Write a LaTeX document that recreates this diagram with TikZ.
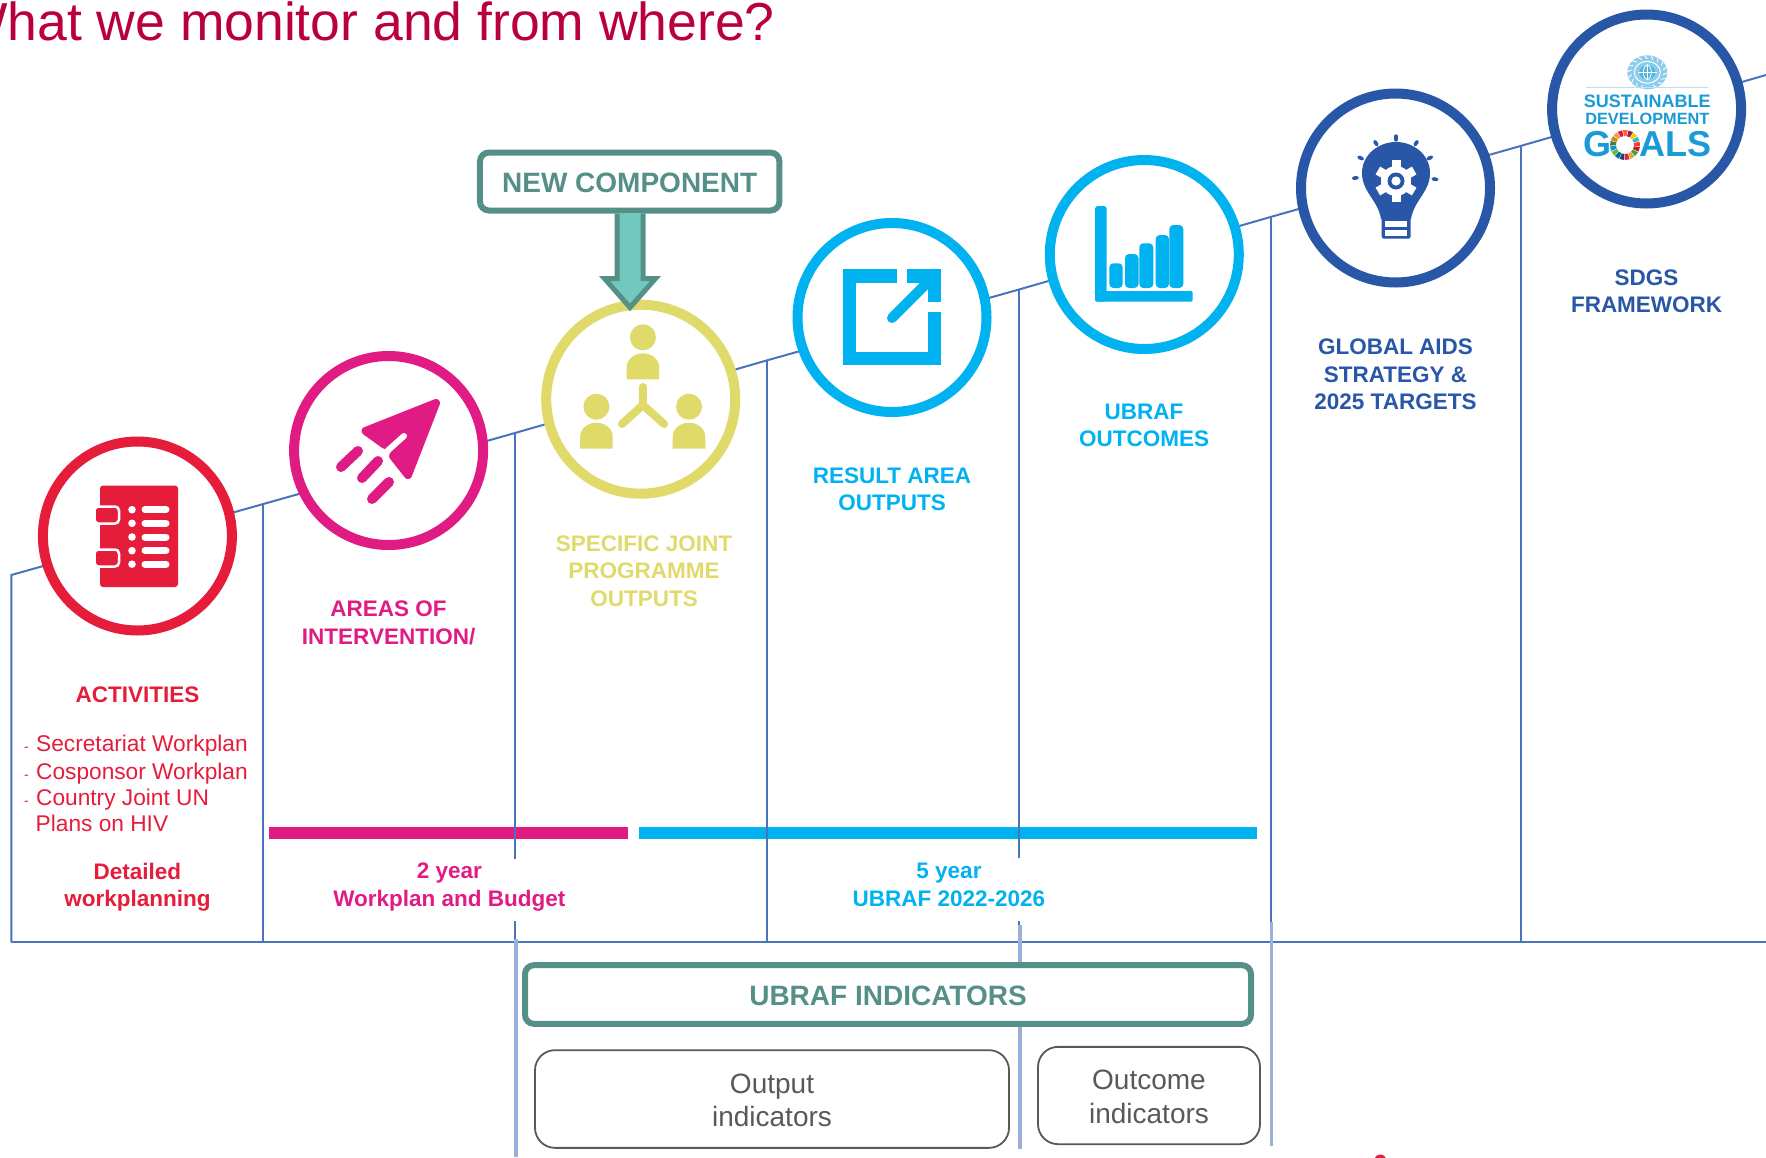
\documentclass[tikz,border=0pt]{standalone}
\usepackage{fontspec}
\setmainfont{Liberation Sans}
\usetikzlibrary{arrows,arrows.meta,positioning,calc}
\definecolor{titlered}{HTML}{B9003C}
\definecolor{stepline}{HTML}{4A72BF}
\definecolor{stepfaint}{HTML}{9BB0DA}
\definecolor{actred}{HTML}{E51C3A}
\definecolor{areapink}{HTML}{E01C84}
\definecolor{jointyellow}{HTML}{E0DA6A}
\definecolor{ubrafblue}{HTML}{00B2F0}
\definecolor{aidsnavy}{HTML}{2857A8}
\definecolor{newteal}{HTML}{559088}
\definecolor{newfill}{HTML}{73C8BE}
\definecolor{indgray}{HTML}{595959}
\definecolor{sdgblue}{HTML}{1A9AD6}
\tikzset{
  ringnode/.style={circle, draw, fill=white, line width=10pt, minimum size=189pt, inner sep=0pt},
  steplabel/.style={align=center, inner sep=0pt, font=\bfseries\fontsize{22.5}{27.5}\selectfont},
  planlabel/.style={align=left, inner sep=0pt, font=\fontsize{22.7}{27}\selectfont, text=actred},
  tealbox/.style={draw=newteal, line width=6pt, rounded corners=9pt, fill=white, text=newteal,
    text height=22pt, text depth=0pt, font=\bfseries\fontsize{28}{32}\selectfont},
  indbox/.style={draw=indgray, line width=1.8pt, rounded corners=20pt, fill=white, text=indgray,
    align=center, font=\fontsize{28}{33.5}\selectfont},
  stepedge/.style={stepline, line width=2pt},
  faintedge/.style={stepfaint, line width=3.5pt}
}
\newcommand{\plandash}{{\fontsize{14}{14}\selectfont -}\hspace{7.3pt}}
\begin{document}
\begin{tikzpicture}[x=1pt, y=-1pt]
  \clip (0,0) rectangle (1766,1157);

  % Title
  \node[anchor=base east, inner sep=0pt, text=titlered, font=\fontsize{53.5}{60}\selectfont] (title) at (775,40.7) {What we monitor and from where?};

  % Stair corners
  \coordinate (t0) at (11.3,575);
  \coordinate (t1) at (263.3,504);
  \coordinate (t2) at (515,433);
  \coordinate (t3) at (766.5,360.5);
  \coordinate (t4) at (1019,289.5);
  \coordinate (t5) at (1270.5,217);
  \coordinate (t6) at (1520.5,146);
  \coordinate (tend) at (1766,75);
  \coordinate (b0) at (11.3,942);
  \coordinate (bend) at (1766,942);

  % Period bars
  \fill[areapink] (269,827) rectangle (628,838.5);
  \fill[ubrafblue] (639,827) rectangle (1257,838.5);

  % Draw edges
  \draw[stepedge] (b0) -- (t0) -- (t1) -- (t2) -- (t3) -- (t4) -- (t5) -- (t6) -- (tend);
  \draw[stepedge] (b0) -- (bend);
  \draw[stepedge] (t1) -- (263.3,942);
  \draw[stepedge] (t2) -- (515,859);
  \draw[stepedge] (515,921) -- (515,942);
  \draw[stepedge] (t3) -- (766.5,942);
  \draw[stepedge] (t4) -- (1019,858);
  \draw[stepedge] (1019,921) -- (1019,942);
  \draw[stepedge] (t5) -- (1270.5,925);
  \draw[stepedge] (t6) -- (1520.5,942);
  \draw[faintedge] (516,939) -- (516,1157);
  \draw[faintedge] (1020,925) -- (1020,1149);
  \draw[faintedge] (1271.5,922) -- (1271.5,1146);

  % Define nodes
  \node[ringnode, draw=actred] (activities) at (137.4,536) {};
  \node[ringnode, draw=areapink] (areas) at (388.6,450.5) {};
  \node[ringnode, draw=jointyellow] (joint) at (640.7,399.2) {};
  \node[ringnode, draw=ubrafblue] (result) at (892,317.5) {};
  \node[ringnode, draw=ubrafblue] (outcomes) at (1144.3,254.5) {};
  \node[ringnode, draw=aidsnavy] (aids) at (1395.5,188) {};
  \node[ringnode, draw=aidsnavy] (sdgs) at (1646.6,109) {};

  % Activities icon
  \fill[actred, rounded corners=3pt] (100,485.5) rectangle (178,587);
  \draw[white, line width=2.5pt, fill=actred, rounded corners=4pt] (94.5,506.5) rectangle (119,523.5);
  \draw[white, line width=2.5pt, fill=actred, rounded corners=4pt] (94.5,549.5) rectangle (119,566.5);
  \foreach \y in {509.7,523.3,537,550.7,564.2} {
    \fill[white] (132,\y) circle (3.8pt);
    \draw[white, line width=7pt, line cap=round] (145,\y) -- (166,\y);
  }

  % Rocket icon
  \fill[areapink, draw=areapink, line width=8pt, line join=round] (436,403) -- (365.5,431) -- (385,445) -- (410,430) -- (393,456) -- (408,475) -- cycle;
  \draw[white, line width=6pt, line cap=round] (404,436) -- (385,453);
  \draw[areapink, line width=10pt, line cap=round] (341,467) -- (358,451);
  \draw[areapink, line width=10pt, line cap=round] (362,478) -- (378,461);
  \draw[areapink, line width=10pt, line cap=round] (372,499) -- (389,482);

  % People icon
  \foreach \hx/\hy in {642.9/337.3, 596.4/406.7, 689/406.7} {
    \fill[jointyellow] (\hx,\hy) circle (13pt);
    \fill[jointyellow] (\hx-16.3,\hy+42) -- (\hx-16.3,\hy+30) arc (180:0:16.3pt and 14pt) -- (\hx+16.3,\hy+42) -- cycle;
  }
  \draw[jointyellow, line width=8pt, line cap=round] (642.9,387) -- (642.9,405) -- (622,424);
  \draw[jointyellow, line width=8pt, line cap=round] (642.9,405) -- (664,424);

  % Open box icon
  \draw[ubrafblue, line width=13.5pt] (897,276) -- (849.6,276) -- (849.6,358.7) -- (934.5,358.7) -- (934.5,312);
  \draw[ubrafblue, line width=13.5pt] (907,276) -- (934.5,276) -- (934.5,302);
  \draw[ubrafblue, line width=10pt, line cap=round] (892,318) -- (932,278);

  % Chart icon
  \fill[ubrafblue, rounded corners=3pt] (1095,206) rectangle (1106.7,301.7);
  \fill[ubrafblue, rounded corners=2pt] (1095,291) rectangle (1192.7,301.7);
  \fill[ubrafblue, rounded corners=4pt] (1109.3,263.3) rectangle (1122.7,288);
  \fill[ubrafblue, rounded corners=4pt] (1125,254) rectangle (1138.5,288);
  \fill[ubrafblue, rounded corners=4pt] (1139.3,243.3) rectangle (1153.3,288);
  \fill[ubrafblue, rounded corners=4pt] (1155.7,235) rectangle (1169,288);
  \fill[ubrafblue, rounded corners=4pt] (1169.3,225) rectangle (1183.3,288);

  % Bulb icon
  \fill[aidsnavy] (1362,173) .. controls (1362,155) and (1378,142) .. (1396,142)
    .. controls (1414,142) and (1430,155) .. (1430,173)
    .. controls (1430,192) and (1414,200) .. (1411,219) -- (1381,219)
    .. controls (1378,200) and (1362,192) .. (1362,173) -- cycle;
  \fill[aidsnavy, rounded corners=1.5pt] (1381.5,217) rectangle (1410.5,238.5);
  \fill[white] (1385,221) rectangle (1407,226.5);
  \fill[white] (1385,230) rectangle (1407,235.5);
  \foreach \a/\r in {173/41, 203/38.4, 236/36, 270/35, 304/36, 336/37, 9/39.5} {
    \draw[aidsnavy, line width=3.6pt, line cap=round] ($(1396,173)+(\a:\r-1.8)$) -- ($(1396,173)+(\a:\r+1.8)$);
  }
  \foreach \a in {30,90,150,210,270,330} {
    \draw[white, line width=9pt] (1396,181) -- ($(1396,181)+(\a:21)$);
  }
  \fill[white] (1396,181) circle (15pt);
  \fill[aidsnavy] (1396,181) circle (8.5pt);
  \fill[white] (1396,181) circle (4.6pt);

  % Goals logo
  \fill[sdgblue!50] (1647.3,72.3) ellipse (20pt and 17pt);
  \foreach \a in {-70,-50,...,250} {
    \draw[white, line width=0.9pt] ($(1647.3,72.3)+(\a:16pt and 13.5pt)$) -- ($(1647.3,72.3)+(\a+8:20pt and 17pt)$);
  }
  \draw[white, line width=1pt] (1647.3,72.3) ellipse (13pt and 11pt);
  \fill[sdgblue!75] (1647.3,72.3) ellipse (8pt and 7pt);
  \draw[white, line width=0.8pt] (1647.3,64) -- (1647.3,80);
  \draw[white, line width=0.8pt] (1638,72.3) -- (1656.6,72.3);
  \draw[white, line width=0.8pt] (1647.3,72.3) ellipse (4pt and 7pt);
  \draw[sdgblue!30, line width=1pt] (1585.7,87.7) -- (1708,87.7);
  \node[inner sep=0pt, text=sdgblue, font=\bfseries\fontsize{18}{20}\selectfont] (sustain) at (1647.3,101.5) {SUSTAINABLE};
  \node[inner sep=0pt, text=sdgblue, font=\bfseries\fontsize{16.3}{20}\selectfont] (develop) at (1647.3,119) {DEVELOPMENT};
  \node[inner sep=0pt, text=sdgblue, font=\bfseries\fontsize{36}{40}\selectfont] (goals) at (1647.3,144) {G\phantom{O}ALS};
  \foreach \c [count=\i from 0] in {E5243B,DDA63A,4C9F38,C5192D,FF3A21,26BDE2,FCC30B,A21942,FD6925,DD1367,FD9D24,BF8B2E,3F7E44,0A97D9,56C02B,00689D,19486A} {
    \definecolor{ringpart}{HTML}{\c}
    \pgfmathsetmacro{\ringa}{-90+\i*21.18}
    \pgfmathsetmacro{\ringb}{\ringa+18}
    \fill[ringpart] ($(1625,145)+(\ringa:9pt)$) -- ($(1625,145)+(\ringa:15pt)$)
      arc (\ringa:\ringb:15pt) -- ($(1625,145)+(\ringb:9pt)$)
      arc (\ringb:\ringa:9pt) -- cycle;
  }

  % Step labels
  \node[steplabel, text=actred] (actlabel) at (137.4,695) {ACTIVITIES};
  \node[planlabel, anchor=north west] (planlist) at (24,735) {\plandash Secretariat Workplan\\[0.4pt]\plandash Cosponsor Workplan\\[-0.8pt]\plandash Country Joint UN\\[-0.4pt]\hspace{11.5pt}Plans on HIV};
  \node[steplabel, text=actred] (detail) at (137.4,887) {Detailed\\workplanning};
  \node[steplabel, text=areapink] (arealabel) at (388.6,623) {AREAS OF\\INTERVENTION/};
  \node[steplabel, text=jointyellow] (jointlabel) at (644,571) {SPECIFIC JOINT\\PROGRAMME\\OUTPUTS};
  \node[steplabel, text=ubrafblue] (resultlabel) at (892,489) {RESULT AREA\\OUTPUTS};
  \node[steplabel, text=ubrafblue] (outcomelabel) at (1144,425.5) {UBRAF\\OUTCOMES};
  \node[steplabel, text=aidsnavy] (aidslabel) at (1395.5,374.5) {GLOBAL AIDS\\STRATEGY \&\\2025 TARGETS};
  \node[steplabel, text=aidsnavy] (sdglabel) at (1646.6,291) {SDGS\\FRAMEWORK};
  \node[steplabel, text=areapink] (twoyear) at (449.4,887) {2 year\\Workplan and Budget};
  \node[steplabel, text=ubrafblue] (fiveyear) at (949,885) {5 year\\UBRAF 2022-2026};

  % Indicator boxes
  \node[tealbox, minimum width=726pt, minimum height=58.7pt] (indicators) at (888,994.5) {UBRAF INDICATORS};
  \node[indbox, minimum width=474pt, minimum height=97.7pt] (outputbox) at (772,1099) {\rule{0pt}{22pt}Output\\indicators};
  \node[indbox, minimum width=222pt, minimum height=97.3pt] (outcomebox) at (1149,1095.5) {\rule{0pt}{22pt}Outcome\\indicators};

  % New component callout
  \node[tealbox, minimum width=299.5pt, minimum height=58pt] (newbox) at (629.7,181.5) {NEW COMPONENT};
  \coordinate (newtip) at (630,307.5);
  \draw[newteal, fill=newfill, line width=5pt, miter limit=10] (newbox.south -| 617,0) -- (617,278.5) -- (604.5,278.5) -- (newtip) -- (655.5,278.5) -- (643,278.5) -- (newbox.south -| 643,0);

  % Edge of the next shape
  \fill[actred] (1380.3,1160.5) circle (6pt);
\end{tikzpicture}
\end{document}
